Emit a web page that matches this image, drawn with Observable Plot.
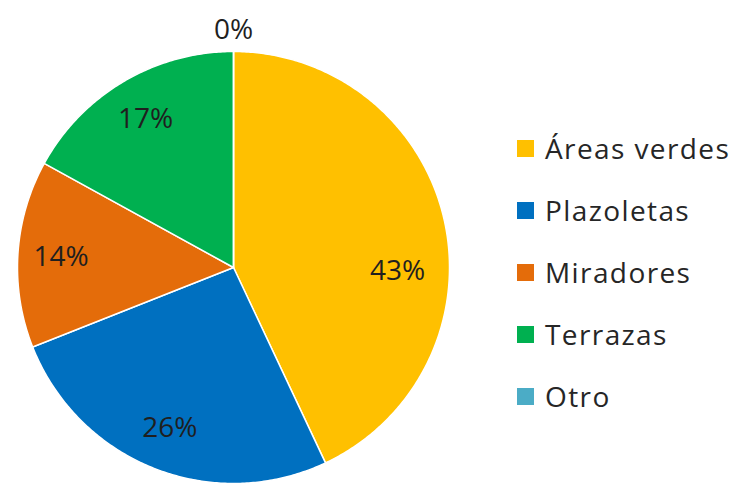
<!DOCTYPE html>
<html><head><meta charset="utf-8">
<script src="https://cdn.jsdelivr.net/npm/d3@7"></script>
<script src="https://cdn.jsdelivr.net/npm/@observablehq/plot@0.6"></script>
<style>
body{margin:0;background:#fff;font-family:"Open Sans",sans-serif;}
#wrap{position:relative;width:738px;height:486px;}
#legend{position:absolute;left:517px;top:117px;}
.item{display:flex;align-items:center;height:62px;font-size:28px;letter-spacing:1.4px;color:#262626;}
.sw{width:17px;height:17px;margin-right:11px;}
</style></head><body>
<div id="wrap"><div id="chart"></div><div id="legend"></div></div>
<script>
const categories = ["Áreas verdes","Plazoletas","Miradores","Terrazas","Otro"];
const values = [43, 26, 14, 17, 0];
const colors = ["#FFC000","#0070C0","#E46C0A","#00B050","#4BACC6"];

// layout: label angle adjustments (degrees) mimicking the spreadsheet "best fit" placement
const labelAngleShift = {"Áreas verdes": 14};

const total = d3.sum(values);
const slices = [];
const labels = [];
let cum = 0;
categories.forEach((c, i) => {
  const a0 = cum / total * 2 * Math.PI;
  cum += values[i];
  const a1 = cum / total * 2 * Math.PI;
  const n = Math.max(2, Math.ceil((a1 - a0) / 0.01));
  slices.push({cat: c, x: 0, y: 0});
  for (let k = 0; k <= n; k++) {
    const a = a0 + (a1 - a0) * k / n;
    slices.push({cat: c, x: Math.sin(a), y: Math.cos(a)});
  }
  const am = (a0 + a1) / 2 + (labelAngleShift[c] || 0) * Math.PI / 180;
  const r = values[i] === 0 ? 1.1 : (labelAngleShift[c] ? 0.76 : 0.8);
  labels.push({cat: c, x: r * Math.sin(am), y: r * Math.cos(am), text: values[i] + "%"});
});

const chart = Plot.plot({
  width: 738, height: 486,
  margin: 0,
  x: {domain: [-1, 1], range: [17, 449], axis: null},
  y: {domain: [-1, 1], range: [483, 51], axis: null},
  color: {domain: categories, range: colors},
  marks: [
    Plot.line(slices, {x: "x", y: "y", z: "cat", fill: "cat", stroke: "white", strokeWidth: 1.5, curve: "linear-closed"}),
    Plot.text(labels, {x: "x", y: "y", text: "text", fill: "#1f1f1f", fontSize: 28, fontFamily: "Open Sans"})
  ]
});
document.getElementById("chart").appendChild(chart);

const lg = document.getElementById("legend");
categories.forEach((c, i) => {
  const d = document.createElement("div");
  d.className = "item";
  d.innerHTML = `<div class="sw" style="background:${colors[i]}"></div><span>${c}</span>`;
  lg.appendChild(d);
});
</script>
</body></html>
